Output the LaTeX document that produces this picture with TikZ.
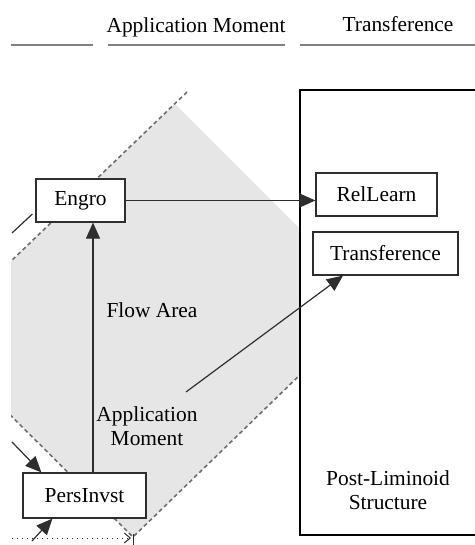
\documentclass[tikz,border=0pt]{standalone}
\usepackage{fontspec}
\setmainfont{Liberation Serif}
\usepackage{xcolor}
\usepackage{tikz}
\usetikzlibrary{arrows.meta,positioning,calc}
\definecolor{flowgray}{HTML}{E6E6E6}
\definecolor{dashgray}{HTML}{6E6E6E}
\definecolor{rulegray}{HTML}{808080}
\definecolor{inkdark}{HTML}{2E2E2E}

\begin{document}
\begin{tikzpicture}[x=0.5pt,y=-0.5pt,
    every node/.style={font=\rmfamily\fontsize{10.7}{12}\selectfont},
    conceptbox/.style={draw=inkdark,line width=0.6pt,fill=white,minimum height=21.5pt,inner sep=0pt},
    bandline/.style={dashgray,line width=0.8pt,dash pattern=on 2pt off 1.5pt},
    arr/.style={inkdark,line width=0.6pt,-{Triangle[length=8pt,width=7pt]}}]
  \useasboundingbox (0,0) rectangle (475,545);
  \clip (11,0) rectangle (475,545);
  % header rules
  \foreach \a/\b in {11/93,108/285,300/480} {
    \draw[rulegray,line width=1pt] (\a,45) -- (\b,45);
  }
  \node (hdrapp) at (196,27) {Application Moment};
  \node (hdrtrans) at (398,24) {Transference};
  % flow band
  \fill[flowgray] (175,104) -- (-20,291) -- (-20,385) -- (133,537) -- (374,303) -- cycle;
  \draw[bandline] (187,92) -- (-20,291);
  \draw[bandline] (-20,385) -- (133,537) -- (374,303);
  % post-liminoid structure
  \node[draw=black,line width=1.1pt,fill=white,minimum width=95pt,minimum height=222.5pt] (post) at (395,312.5) {};
  \node[align=center] (postlbl) at (388,490) {Post-Liminoid\\Structure};
  % concepts
  \node[conceptbox,minimum width=44.5pt] (engro) at (80.5,200.5) {Engro};
  \node[conceptbox,minimum width=60.5pt] (rellearn) at (376.5,194.5) {RelLearn};
  \node[conceptbox,minimum width=72.5pt] (transf) at (385.5,253.5) {Transference};
  \node[conceptbox,minimum width=61.5pt,minimum height=22.5pt] (persinvst) at (84.5,495.5) {PersInvst};
  \node (flowlbl) at (152,310) {Flow Area};
  \node[align=center] (applbl) at (147,426) {Application\\Moment};
  % connectors
  \coordinate (engroin) at (12,233);
  \coordinate (amstart) at (186,392);
  \coordinate (persin) at (12,442);
  \coordinate (persbot) at (32,541);
  \coordinate (dotstart) at (12,538);
  \coordinate (dotend) at (131,538);
  \draw[arr] (persinvst.north -| 93,0) -- (engro.south -| 93,0);
  \draw[arr] (engro.east) -- (rellearn.west |- engro.east);
  \draw[arr] (amstart) -- (343,0 |- transf.south);
  \draw[inkdark,line width=0.6pt] (engroin) -- ([shift={(-1.5pt,-6.75pt)}]engro.west);
  \draw[arr] (persin) -- ([xshift=9.5pt]persinvst.north west);
  \draw[arr] (persbot) -- ([xshift=15pt]persinvst.south west);
  \draw[inkdark,line width=0.5pt,dotted,-{Straight Barb[length=3pt,width=5pt]}] (dotstart) -- (dotend);
  \draw[inkdark,line width=0.5pt] (dotend -| 133,0) ++(0,-4) -- ++(0,12);
\end{tikzpicture}
\end{document}
